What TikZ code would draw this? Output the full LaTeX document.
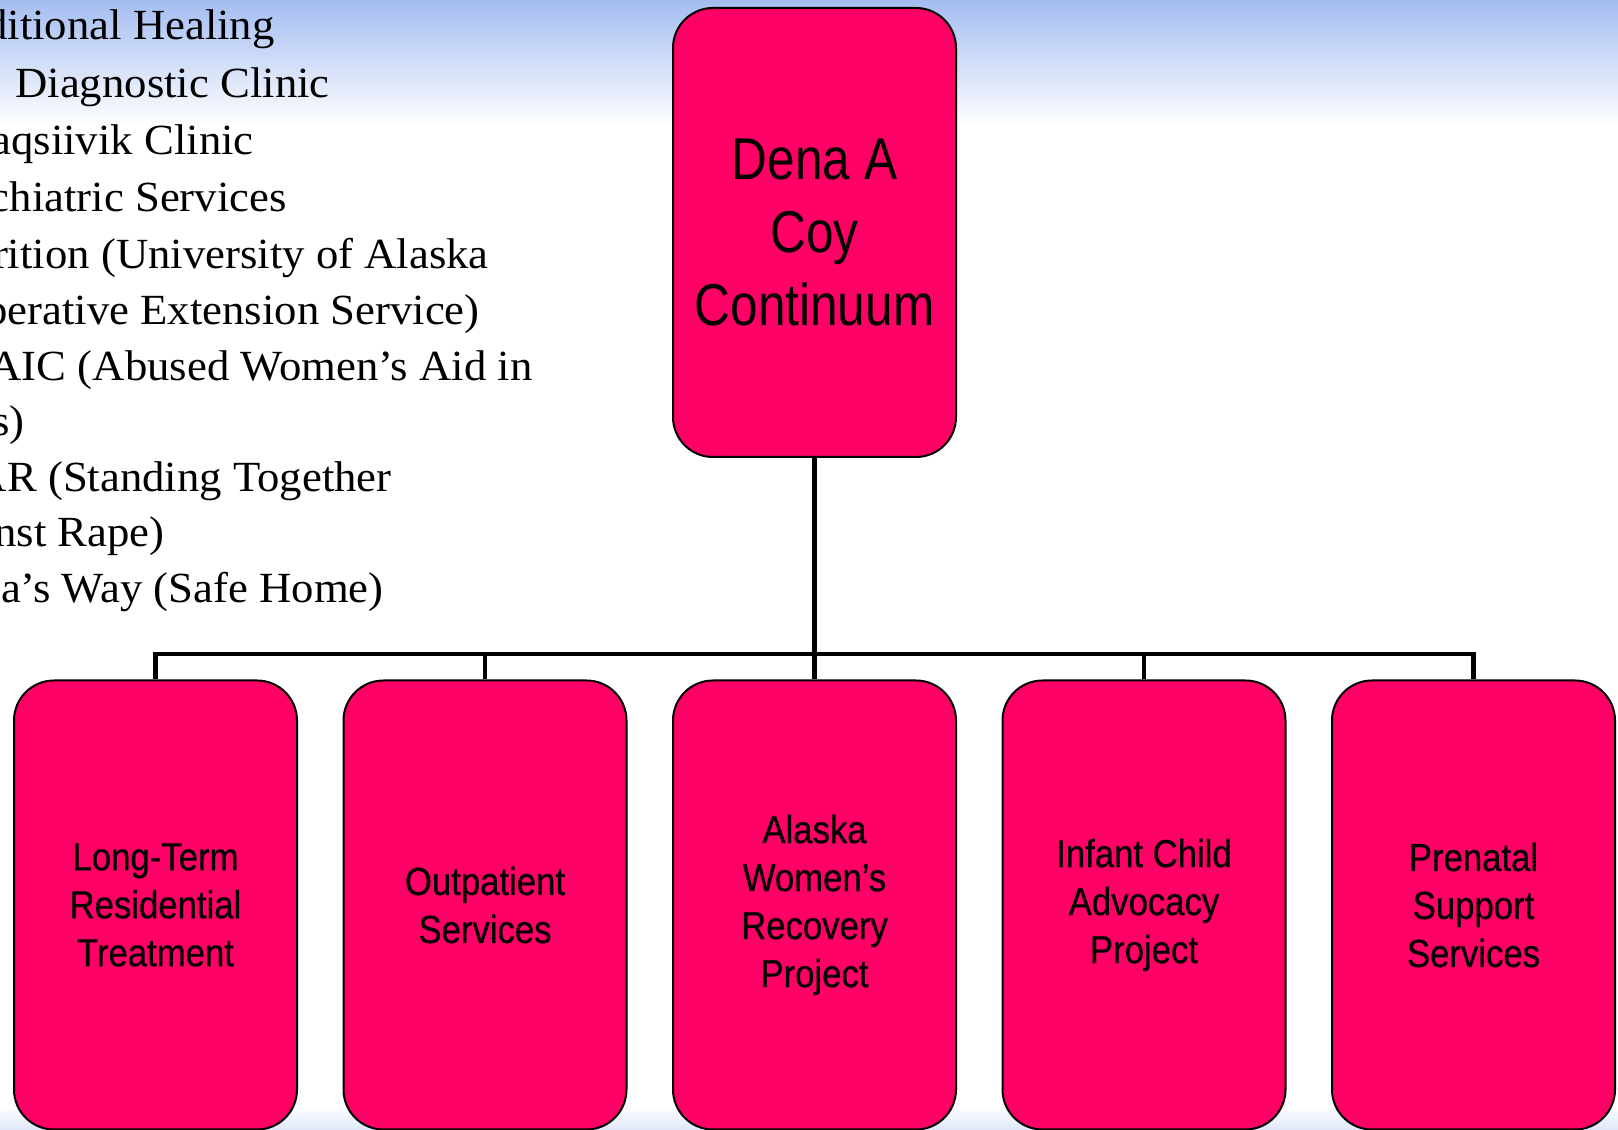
\documentclass[tikz,border=0pt]{standalone}
\usepackage{fontspec}
\usepackage{tikz}
\usetikzlibrary{positioning}
\newfontfamily\notefont[FakeStretch=1.04]{Liberation Serif}
\newfontfamily\chieffont[FakeStretch=0.84]{Liberation Sans}
\newfontfamily\unitfont[FakeStretch=0.89,FakeBold=0.5]{Liberation Sans}
\definecolor{boxpink}{RGB}{255,0,102}
\definecolor{skyblue}{RGB}{164,189,241}
\tikzset{
block/.style={
    rectangle,
    draw,
    line width=1pt,
    fill=boxpink,
    rounded corners=20pt,
    minimum width=141.5pt,
    minimum height=224.5pt,
    inner sep=0pt,
    align=center
},
head/.style={
    block,
    font=\chieffont\fontsize{29.5}{36.5}\selectfont
},
unit/.style={
    block,
    font=\unitfont\fontsize{19.5}{24}\selectfont
},
listline/.style={
    anchor=base east,
    inner sep=0pt,
    font=\notefont\fontsize{21.5}{28}\selectfont
},
connector/.style={
    line width=2.3pt
}
}

\begin{document}
\begin{tikzpicture}[x=1pt,y=1pt]
\useasboundingbox (0,0) rectangle (809,565);
\clip (0,0) rectangle (809,565);
% background
\fill[white] (0,0) rectangle (809,565);
\shade[top color=skyblue, bottom color=white] (0,502) rectangle (809,565);
\shade[top color=white, bottom color=skyblue!35] (0,0) rectangle (809,12);

% list on the left
\foreach \x/\y/\txt [count=\i] in {
  137.5/545/{ditional Healing},
  165/516/{Diagnostic Clinic},
  127/487.5/{aqsiivik Clinic},
  143.5/459/{chiatric Services},
  244.5/430.5/{rition (University of Alaska},
  240/402.5/{perative Extension Service)},
  266.5/374.5/{AIC (Abused Women’s Aid in},
  12.5/347/{s)},
  196/319/{AR (Standing Together},
  82.5/291.5/{nst Rape)},
  192/263.5/{a’s Way (Safe Home)}}
  \node[listline] (line\i) at (\x,\y) {\txt};

% chart
\node[head] (dac) at (407.25,448.75) {Dena A\\Coy\\Continuum};
\node[unit] (ltr) at (77.75,112.5) {Long-Term\\Residential\\Treatment};
\node[unit, right=22.25pt of ltr] (outp) {Outpatient\\Services};
\node[unit, right=22.25pt of outp] (awrp) {Alaska\\Women’s\\Recovery\\Project};
\node[unit, right=22.25pt of awrp] (icap) {Infant Child\\Advocacy\\Project};
\node[unit, right=22.25pt of icap] (pss) {Prenatal\\Support\\Services};

\draw[connector] (dac.south) -- ++(0,-98) coordinate (bus);
\foreach \n in {ltr,outp,awrp,icap,pss}
  \draw[connector] (bus) -| (\n.north);

\end{tikzpicture}
\end{document}
